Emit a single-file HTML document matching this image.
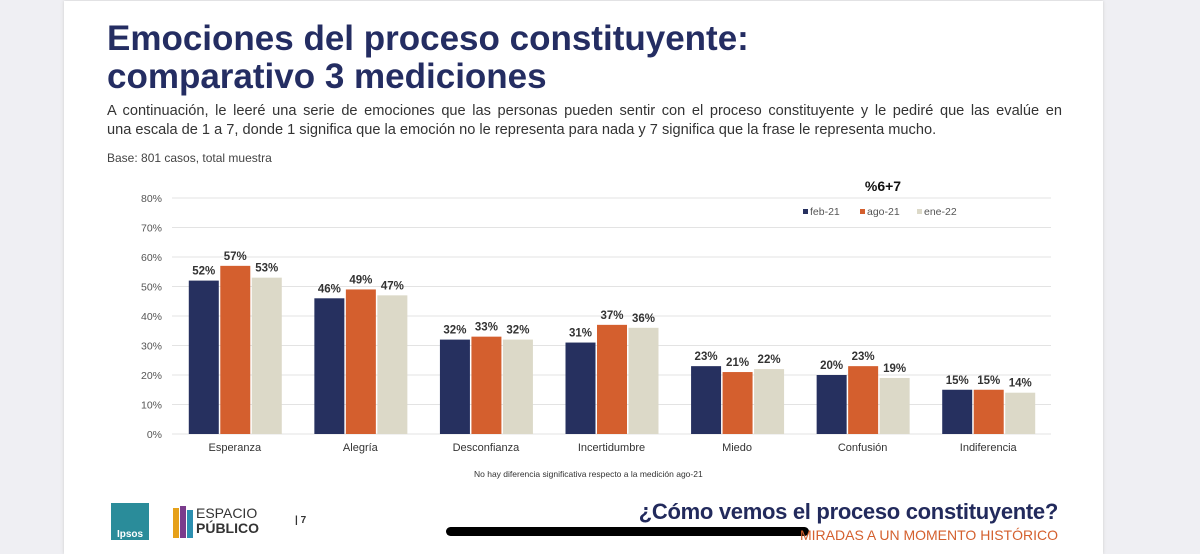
<!DOCTYPE html>
<html><head><meta charset="utf-8"><style>
body{margin:0;width:1200px;height:554px;background:#efeff3;font-family:"Liberation Sans",sans-serif;overflow:hidden;position:relative}
#slide{position:absolute;left:64px;top:1px;width:1039px;height:553px;background:#fff;box-shadow:0 0 3px #ccc}
.t{position:absolute;color:#242d62}
</style></head><body>
<div id="slide"></div>
<div class="t" style="left:107px;top:20px;font-size:35px;font-weight:bold;line-height:38px">Emociones del proceso constituyente:<br>comparativo 3 mediciones</div>
<div class="t" style="left:107px;top:102px;width:955px;font-size:14.6px;line-height:19px;color:#333">
<div style="text-align:justify;text-align-last:justify">A continuación, le leeré una serie de emociones que las personas pueden sentir con el proceso constituyente y le pediré que las evalúe en</div>
<div>una escala de 1 a 7, donde 1 significa que la emoción no le representa para nada y 7 significa que la frase le representa mucho.</div></div>
<div class="t" style="left:107px;top:151px;font-size:12px;color:#444">Base: 801 casos, total muestra</div>
<svg id="chart" width="1200" height="554" style="position:absolute;left:0;top:0"></svg>
<div class="t" style="left:474px;top:469px;font-size:8.5px;color:#333">No hay diferencia significativa respecto a la medición ago-21</div>
<div style="position:absolute;left:111px;top:503px;width:38px;height:37px;background:#2a8c9a;color:#fff;font-size:10px;font-weight:bold;display:flex;align-items:flex-end;justify-content:center">Ipsos</div>
<div style="position:absolute;left:173px;top:506px;width:100px;height:34px">
<div style="position:absolute;left:0;top:2px;width:6px;height:30px;background:#e6a11a"></div>
<div style="position:absolute;left:7px;top:0;width:6px;height:32px;background:#7b3c8c"></div>
<div style="position:absolute;left:14px;top:4px;width:6px;height:28px;background:#2c8fb0"></div>
<div style="position:absolute;left:23px;top:0;font-size:14px;color:#333;line-height:15px">ESPACIO<br><b>PÚBLICO</b></div></div>
<div class="t" style="left:295px;top:515px;font-size:10px;font-weight:bold;color:#333">| 7</div>
<div style="position:absolute;left:446px;top:527px;width:363px;height:9px;border-radius:5px;background:#000"></div>
<div class="t" style="right:142px;top:499px;white-space:nowrap;font-size:22px;font-weight:bold;letter-spacing:-0.3px;color:#222a5c">¿Cómo vemos el proceso constituyente?</div>
<div class="t" style="right:142px;top:527px;white-space:nowrap;font-size:14px;color:#d4602e">MIRADAS A UN MOMENTO HISTÓRICO</div>
<script>
const categories=["Esperanza","Alegría","Desconfianza","Incertidumbre","Miedo","Confusión","Indiferencia"];
const feb21=[52,46,32,31,23,20,15];
const ago21=[57,49,33,37,21,23,15];
const ene22=[53,47,32,36,22,19,14];
const seriesNames=["feb-21","ago-21","ene-22"];
const yTicks=[0,10,20,30,40,50,60,70,80];
const colors=["#26305f","#d45f2e","#dcd9c8"];
const svg=document.getElementById('chart');const NS="http://www.w3.org/2000/svg";
const X0=172,X1=1051,Y0=434,Y1=198;
const y=v=>Y0-(v/80)*(Y0-Y1);
const cw=(X1-X0)/categories.length;
function mk(t,a,txt){const e=document.createElementNS(NS,t);for(const k in a)e.setAttribute(k,a[k]);if(txt!=null)e.textContent=txt;svg.appendChild(e);return e;}
yTicks.forEach(v=>{
 const l=mk('line',{x1:X0,x2:X1,y1:y(v),y2:y(v),stroke:'#e3e3e3','stroke-width':1});
 
 
 const t=mk('text',{x:162,y:y(v)+4,'text-anchor':'end','font-size':10.5,fill:'#555','font-family':'Liberation Sans'},v+'%');
 
 
});
const series=[feb21,ago21,ene22];
categories.forEach((c,i)=>{
 const cx=X0+cw*(i+0.5);
 series.forEach((s,j)=>{
  const bx=cx-46+j*31.5;
  const r=mk('rect',{x:bx,y:y(s[i]),width:30,height:Y0-y(s[i]),fill:colors[j]});
  
  
  const t=mk('text',{x:bx+15,y:y(s[i])-6,'text-anchor':'middle','font-size':11.5,'font-weight':'bold',fill:'#333','font-family':'Liberation Sans'},s[i]+'%');
  
  
 });
 const t=mk('text',{x:cx,y:451,'text-anchor':'middle','font-size':11,fill:'#333','font-family':'Liberation Sans'},c);
 
 
});
const h=mk('text',{x:883,y:191,'text-anchor':'middle','font-size':14,'font-weight':'bold',fill:'#111','font-family':'Liberation Sans'},'%6+7');


const lx=[803,860,917];
seriesNames.forEach((n,j)=>{
 const r=mk('rect',{x:lx[j],y:209,width:5,height:5,fill:colors[j]});
 
 
 const t=mk('text',{x:lx[j]+7,y:215,'font-size':10.5,fill:'#555','font-family':'Liberation Sans'},n);
 
 
});
</script>
</body></html>
